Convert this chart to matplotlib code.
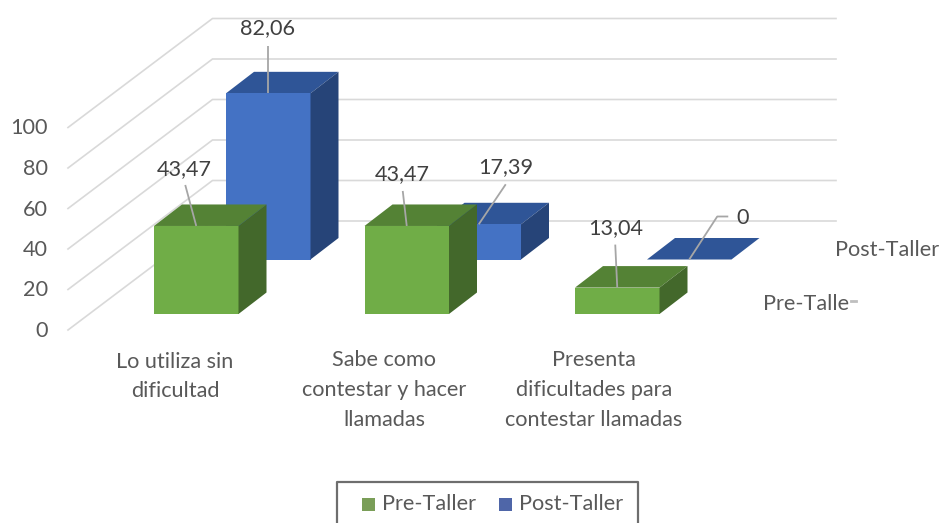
import matplotlib
matplotlib.use("Agg")
import matplotlib.pyplot as plt
from matplotlib.patches import Polygon, Rectangle

plt.rcParams['font.family'] = ['Lato', 'DejaVu Sans']

categories = ["Lo utiliza sin\ndificultad",
              "Sabe como\ncontestar y hacer\nllamadas",
              "Presenta\ndificultades para\ncontestar llamadas"]
series_names = ["Pre-Taller", "Post-Taller"]
pre_taller = [43.47, 43.47, 13.04]
post_taller = [82.06, 17.39, 0]
y_ticks = [0, 20, 40, 60, 80, 100]

# oblique projection, everything in image pixels
UNIT = 2.025        # px per value unit
BAR_X0 = 154.0      # front left corner of first green bar
BAR_Y0 = 314.0
CAT_STEP = 210.5
BAR_W = 84.5
SERIES_DX = 72.0    # shift per series going back
SERIES_DY = -54.5
TOP_DX = 28.0       # depth of one bar
TOP_DY = -21.5
WALL_X0, WALL_X1, WALL_Y0 = 68.0, 212.5, 330.0
BACK_X1 = 836.0
BACK_DY = -109.0
FONT = 15.6

# label offsets from the middle of each bar's front top edge: knee, text
pre_offsets = [((-11, -41), (-12, -58)), ((-4, -35), (-4, -53)), ((-2, -43), (-2, -61))]
post_offsets = [((0, -47), (-1, -66)), ((27, -40), (27, -58)), ((28, -43), (53, -42))]

GREEN = dict(front="#70AD47", top="#548235", side="#43682B")
BLUE = dict(front="#4472C4", top="#2F5597", side="#264478")
TEXT_GREY = "#595959"
LABEL_GREY = "#404040"
GRID_GREY = "#D9D9D9"
LEADER_GREY = "#A6A6A6"


def draw_bar(ax, cat, series, value, colors, z):
    x = BAR_X0 + cat * CAT_STEP + series * SERIES_DX
    y = BAR_Y0 + series * SERIES_DY
    top = y - value * UNIT
    w = BAR_W
    ax.add_patch(Polygon([(x, top), (x + w, top), (x + w + TOP_DX, top + TOP_DY), (x + TOP_DX, top + TOP_DY)],
                         fc=colors["top"], ec="none", zorder=z))
    if value > 0:
        ax.add_patch(Rectangle((x, top), w, y - top, fc=colors["front"], ec="none", zorder=z))
        ax.add_patch(Polygon([(x + w, top), (x + w + TOP_DX, top + TOP_DY), (x + w + TOP_DX, y + TOP_DY), (x + w, y)],
                             fc=colors["side"], ec="none", zorder=z))
    return x + w / 2, top


def draw_label(ax, anchor, offsets, value, last_flat=False):
    ax_, ay = anchor
    knee, txt = offsets
    xs = [ax_, ax_ + knee[0]]
    ys = [ay, ay + knee[1]]
    if last_flat:
        xs.append(ax_ + knee[0] + 11)
        ys.append(ay + knee[1])
    ax.plot(xs, ys, color=LEADER_GREY, lw=1.3, zorder=20, solid_capstyle="butt")
    label = f"{value:.2f}".replace(".", ",") if value else "0"
    ax.text(ax_ + txt[0], ay + txt[1] + 1, label, ha="center", va="center",
            color=LABEL_GREY, fontsize=FONT, zorder=21)


fig = plt.figure(figsize=(9.4, 5.23), dpi=100)
ax = fig.add_axes([0, 0, 1, 1])
ax.set_xlim(0, 940)
ax.set_ylim(523, 0)
ax.axis("off")

# wall gridlines and value ticks
for t in y_ticks:
    y_front = WALL_Y0 - t * UNIT
    y_back = y_front + BACK_DY
    ax.plot([WALL_X0, WALL_X1, BACK_X1], [y_front, y_back, y_back], color=GRID_GREY, lw=1.2, zorder=1)
    ax.text(48, y_front + 1, str(t), ha="right", va="center", color=TEXT_GREY, fontsize=FONT)

# back series first so the green bars cover it
anchors_post = [draw_bar(ax, i, 1, v, BLUE, 3) for i, v in enumerate(post_taller)]
anchors_pre = [draw_bar(ax, i, 0, v, GREEN, 5) for i, v in enumerate(pre_taller)]

for i, v in enumerate(pre_taller):
    draw_label(ax, anchors_pre[i], pre_offsets[i], v)
for i, v in enumerate(post_taller):
    draw_label(ax, anchors_post[i], post_offsets[i], v, last_flat=(v == 0))

for i, c in enumerate(categories):
    ax.text(175 + i * 209.5, 390 if i else 376.5, c, ha="center", va="center", color=TEXT_GREY,
            fontsize=FONT, linespacing=1.6)

# depth axis labels
ax.text(835, 250, series_names[1], ha="left", va="center", color=TEXT_GREY, fontsize=FONT)
ax.text(763, 304, series_names[0][:-1], ha="left", va="center", color=TEXT_GREY, fontsize=FONT)
ax.plot([851, 856], [301, 301], color="#BFBFBF", lw=2)

# legend box, cut by the bottom of the image
ax.plot([337, 337, 638, 638], [523, 482, 482, 523], color="#6E6E6E", lw=1.6, clip_on=True)
ax.add_patch(Rectangle((362, 498), 13, 13, fc="#7A9E58", ec="none"))
ax.add_patch(Rectangle((499, 498), 13, 13, fc="#4F66A8", ec="none"))
ax.text(382, 504, series_names[0], ha="left", va="center", color=TEXT_GREY, fontsize=FONT)
ax.text(519, 504, series_names[1], ha="left", va="center", color=TEXT_GREY, fontsize=FONT)

fig.savefig("out.png", dpi=100)
